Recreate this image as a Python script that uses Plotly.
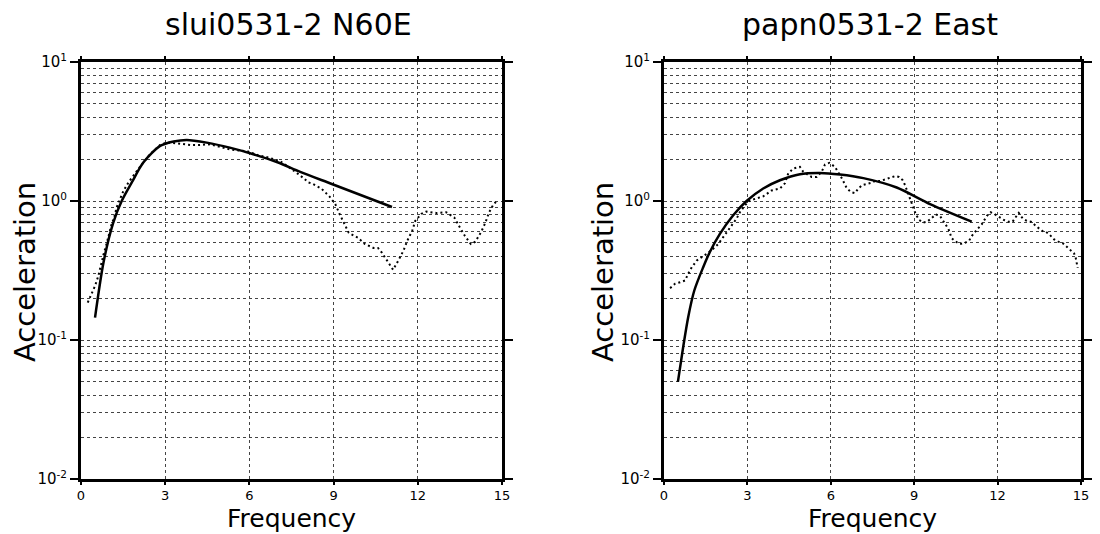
import plotly.graph_objects as go

# ---- data: left panel (slui0531-2 N60E) ----
left_model_x = [0.5, 0.8, 1.15, 1.45, 1.81, 2.22, 2.82, 3.3, 3.77, 4.48, 5.3, 6.14, 7.0, 7.81, 8.96, 11.08]
left_model_y = [0.145, 0.36, 0.70, 1.0, 1.36, 1.89, 2.49, 2.68, 2.75, 2.63, 2.42, 2.17, 1.90, 1.62, 1.32, 0.905]

left_obs_x = [0.24, 0.38, 0.5, 0.62, 0.71, 0.8, 0.92, 1.01, 1.09, 1.19, 1.27, 1.39, 1.51, 1.69, 1.89,
              2.08, 2.22, 2.46, 2.82, 3.05, 3.41, 3.89, 4.24, 4.6, 5.31, 5.96, 6.32, 6.7, 7.1, 7.5,
              7.93, 8.1, 8.25, 8.56, 8.85, 9.06, 9.21, 9.45, 9.54, 9.86, 10.12, 10.42, 10.58, 10.72,
              10.93, 11.12, 11.31, 11.49, 11.63, 11.8, 11.91, 12.13, 12.3, 12.66, 13.01, 13.3, 13.49,
              13.68, 13.89, 14.05, 14.26, 14.41, 14.53, 14.7, 14.82]
left_obs_y = [0.186, 0.213, 0.245, 0.29, 0.35, 0.41, 0.50, 0.59, 0.68, 0.77, 0.90, 1.03, 1.18, 1.36, 1.56,
              1.74, 1.89, 2.17, 2.53, 2.63, 2.60, 2.53, 2.53, 2.56, 2.35, 2.27, 2.13, 2.05, 1.93, 1.70,
              1.46, 1.36, 1.33, 1.23, 1.08, 0.95, 0.81, 0.64, 0.59, 0.545, 0.49, 0.46, 0.46, 0.425,
              0.37, 0.32, 0.374, 0.44, 0.52, 0.61, 0.72, 0.81, 0.84, 0.82, 0.83, 0.76, 0.65,
              0.56, 0.49, 0.51, 0.60, 0.70, 0.82, 0.95, 1.0]

# ---- data: right panel (papn0531-2 East) ----
right_model_x = [0.5, 0.69, 0.87, 1.09, 1.41, 1.65, 2.01, 2.49, 2.97, 3.57, 4.17, 4.89, 5.61, 6.33, 7.17, 8.37, 9.57, 11.07]
right_model_y = [0.05, 0.089, 0.146, 0.227, 0.334, 0.43, 0.58, 0.79, 1.0, 1.23, 1.41, 1.56, 1.59, 1.55, 1.46, 1.25, 0.95, 0.71]

right_obs_x = [0.22, 0.4, 0.58, 0.76, 0.87, 1.0, 1.18, 1.36, 1.54, 1.77, 1.95, 2.13, 2.31, 2.49, 2.61,
               2.73, 2.91, 3.09, 3.33, 3.57, 3.87, 4.17, 4.35, 4.47, 4.65, 4.89, 5.01, 5.31, 5.49, 5.67,
               5.79, 5.95, 6.15, 6.23, 6.41, 6.57, 6.72, 6.87, 6.99, 7.13, 7.29, 7.44, 7.59, 7.77, 7.95,
               8.13, 8.31, 8.45, 8.59, 8.67, 8.75, 8.85, 8.97, 9.06, 9.18, 9.33, 9.47, 9.63, 9.78, 9.93,
               10.1, 10.23, 10.35, 10.49, 10.65, 10.83, 10.98, 11.07, 11.25, 11.43, 11.61, 11.75, 11.91,
               12.09, 12.23, 12.39, 12.54, 12.66, 12.76, 12.9, 13.05, 13.2, 13.46, 13.59, 13.74, 13.88,
               14.03, 14.18, 14.33, 14.48, 14.6, 14.75, 14.81, 14.88]
right_obs_y = [0.236, 0.254, 0.26, 0.268, 0.30, 0.334, 0.373, 0.394, 0.417, 0.454, 0.49, 0.55, 0.615, 0.687, 0.746,
               0.83, 0.93, 1.01, 1.04, 1.08, 1.19, 1.23, 1.34, 1.58, 1.71, 1.76, 1.62, 1.49, 1.49, 1.62,
               1.83, 1.88, 1.76, 1.66, 1.44, 1.24, 1.16, 1.14, 1.23, 1.30, 1.32, 1.35, 1.39, 1.39, 1.43,
               1.47, 1.51, 1.49, 1.41, 1.30, 1.18, 1.01, 0.90, 0.80, 0.73, 0.70, 0.71, 0.75, 0.80, 0.78,
               0.69, 0.63, 0.54, 0.51, 0.49, 0.50, 0.52, 0.56, 0.62, 0.68, 0.78, 0.83, 0.80,
               0.76, 0.73, 0.71, 0.71, 0.77, 0.82, 0.75, 0.72, 0.71, 0.64, 0.61, 0.60, 0.57,
               0.53, 0.51, 0.50, 0.47, 0.45, 0.42, 0.39, 0.33]

titles = ["slui0531-2 N60E", "papn0531-2 East"]
x_title = "Frequency"
y_title = "Acceleration"
x_ticks = [0, 3, 6, 9, 12, 15]
y_decades = [0.01, 0.1, 1, 10]
y_decade_text = ["10<sup>-2</sup>", "10<sup>-1</sup>", "10<sup>0</sup>", "10<sup>1</sup>"]
y_minor = [m * d for d in [0.01, 0.1, 1] for m in range(2, 10)]

FONT = "DejaVu Sans"

fig = go.Figure()

panels = [
    (left_model_x, left_model_y, left_obs_x, left_obs_y, "x", "y"),
    (right_model_x, right_model_y, right_obs_x, right_obs_y, "x2", "y2"),
]
for mx, my, ox, oy, xa, ya in panels:
    fig.add_trace(go.Scatter(x=ox, y=oy, mode="lines", xaxis=xa, yaxis=ya,
                             line=dict(color="black", width=2, dash="2px,3px"),
                             showlegend=False, hoverinfo="skip"))
    fig.add_trace(go.Scatter(x=mx, y=my, mode="lines", xaxis=xa, yaxis=ya,
                             line=dict(color="black", width=2.5, shape="spline", smoothing=0.8),
                             showlegend=False, hoverinfo="skip"))

domains = [[81 / 1100, 502 / 1100], [664 / 1100, 1081 / 1100]]
ydom = [(534 - 479) / 534, (534 - 62) / 534]

xcommon = dict(range=[0, 15], tickvals=x_ticks, ticks="outside", ticklen=3, tickwidth=2,
               tickcolor="black", showline=True, linecolor="black", linewidth=2.5, mirror="allticks",
               showgrid=True, gridcolor="#444", gridwidth=1, griddash="dot", zeroline=False,
               automargin=False,
               tickfont=dict(family=FONT, size=13, color="black"))
ycommon = dict(type="log", range=[-2, 1], tickvals=y_decades, ticktext=y_decade_text,
               ticks="outside", ticklen=8, tickwidth=2, tickcolor="black", showline=True,
               linecolor="black", linewidth=3, mirror="allticks", showgrid=True, gridcolor="#444",
               gridwidth=1, griddash="dot", zeroline=False, automargin=False,
               minor=dict(tickmode="array", tickvals=y_minor, showgrid=True, gridcolor="#444",
                          gridwidth=1, griddash="dot", ticks=""),
               tickfont=dict(family=FONT, size=15, color="black"))

fig.update_layout(
    width=1100, height=534, margin=dict(l=0, r=0, t=0, b=0, pad=0, autoexpand=False),
    paper_bgcolor="white", plot_bgcolor="white",
    xaxis=dict(domain=domains[0], anchor="y", **xcommon),
    yaxis=dict(domain=ydom, anchor="x", **ycommon),
    xaxis2=dict(domain=domains[1], anchor="y2", **xcommon),
    yaxis2=dict(domain=ydom, anchor="x2", **ycommon),
)

title_x = [288 / 1100, 870 / 1100]
ytitle_x = [25 / 1100, 603 / 1100]
ann = []
for i, (d, t) in enumerate(zip(domains, titles)):
    cx = (d[0] + d[1]) / 2
    ann.append(dict(text=t, x=title_x[i], y=1 - 24 / 534, xref="paper", yref="paper", showarrow=False,
                    font=dict(family=FONT, size=30, color="black"), xanchor="center", yanchor="middle"))
    ann.append(dict(text=x_title, x=cx, y=0, xref="paper", yref="paper", showarrow=False,
                    borderpad=0, font=dict(family=FONT, size=25, color="black"),
                    xanchor="center", yanchor="bottom"))
    ann.append(dict(text=y_title, x=ytitle_x[i], y=1 - 272 / 534, xref="paper",
                    yref="paper", showarrow=False, textangle=-90,
                    font=dict(family=FONT, size=29, color="black"), xanchor="center", yanchor="middle"))
fig.update_layout(annotations=ann)

fig.write_html("out.html", config={"displayModeBar": False},
               post_script="document.body.style.margin='0px';")
